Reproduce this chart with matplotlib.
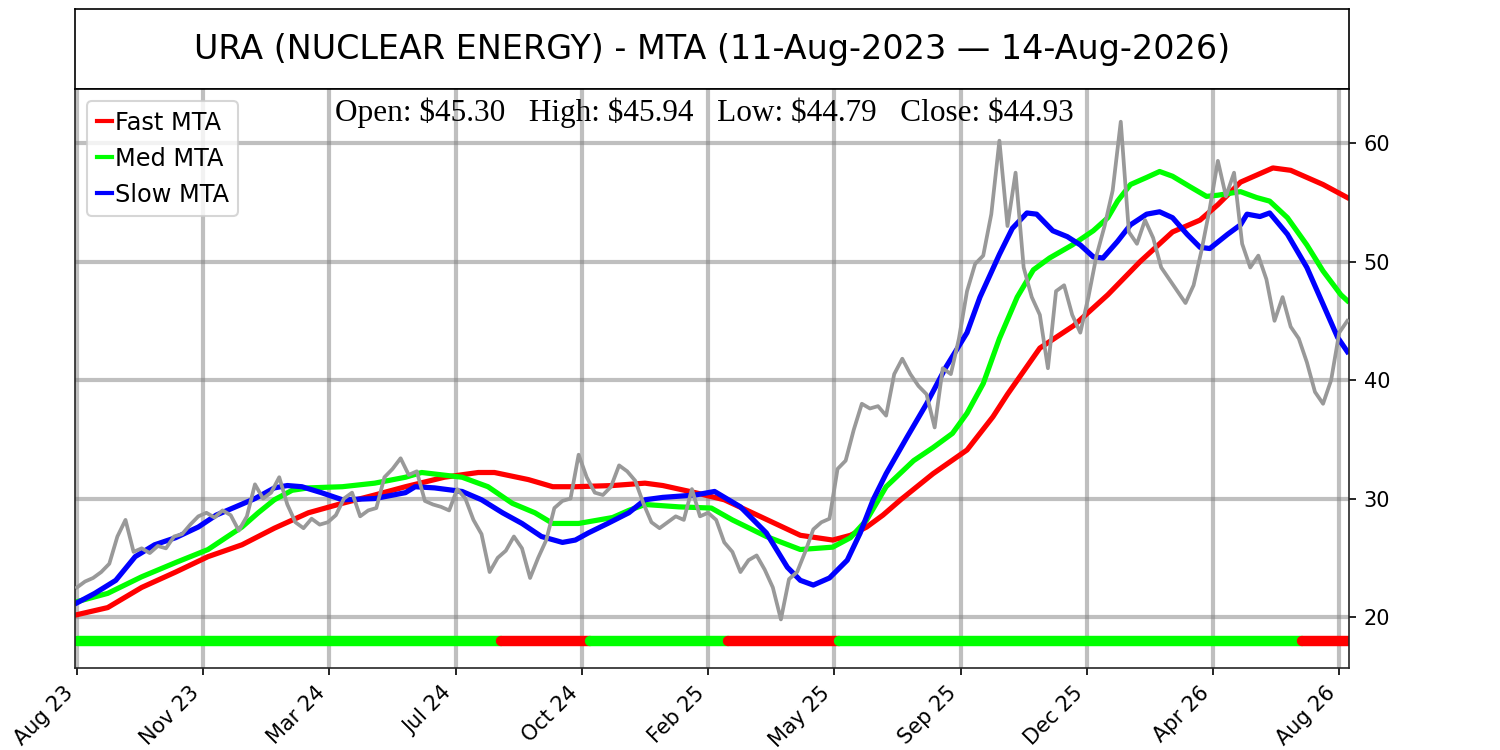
import numpy as np
import matplotlib.pyplot as plt

# chart text
ticker = "URA (NUCLEAR ENERGY)"
start_date = "11-Aug-2023"
end_date = "14-Aug-2026"
open_px = 45.30
high_px = 45.94
low_px = 44.79
close_px = 44.93

# weekly closes (one value per 5 trading days)
close = [
    22.5, 23.0, 23.3, 23.8, 24.5, 26.8, 28.2, 25.5, 25.8, 25.4,
    26.0, 25.8, 26.8, 27.0, 27.8, 28.5, 28.8, 28.4, 29.0, 28.6,
    27.3, 28.5, 31.2, 30.0, 30.5, 31.8, 29.5, 28.0, 27.5, 28.3,
    27.8, 28.0, 28.6, 30.0, 30.5, 28.5, 29.0, 29.2, 31.8, 32.5,
    33.4, 32.0, 32.3, 29.8, 29.5, 29.3, 29.0, 30.8, 30.0, 28.2,
    27.0, 23.8, 25.0, 25.6, 26.8, 25.8, 23.3, 25.0, 26.5, 29.2,
    29.8, 30.0, 33.7, 31.8, 30.5, 30.3, 31.0, 32.8, 32.3, 31.5,
    29.6, 28.0, 27.5, 28.0, 28.5, 28.2, 30.8, 28.5, 28.8, 28.2,
    26.3, 25.5, 23.8, 24.8, 25.2, 24.0, 22.5, 19.8, 23.2, 23.8,
    25.5, 27.4, 28.0, 28.3, 32.5, 33.2, 35.8, 38.0, 37.6, 37.8,
    37.0, 40.5, 41.8, 40.5, 39.5, 38.8, 36.0, 41.0, 40.5, 43.5,
    47.5, 49.8, 50.5, 54.0, 60.2, 53.0, 57.5, 49.5, 47.0, 45.5,
    41.0, 47.5, 48.0, 45.5, 44.0, 47.0, 50.5, 53.0, 56.0, 61.8,
    52.5, 51.5, 53.5, 52.0, 49.5, 48.5, 47.5, 46.5, 48.0, 51.0,
    54.5, 58.5, 55.5, 57.5, 51.5, 49.5, 50.5, 48.5, 45.0, 47.0,
    44.5, 43.5, 41.5, 39.0, 38.0, 40.0, 44.0, 45.0,
]

# moving trend averages: (trading-day index, value)
fast_idx = [0, 19, 40, 61, 81, 102, 122, 143, 164, 184, 203, 227, 248, 258,
            279, 294, 308, 331, 351, 362, 382, 400, 422, 447, 467, 478, 488,
            498, 509, 529, 550, 566, 575, 595, 616, 637, 657, 677, 694, 705,
            719, 739, 750, 770, 785]
fast_mta = [20.2, 20.8, 22.5, 23.8, 25.1, 26.1, 27.5, 28.8, 29.6, 30.3, 31.0,
            31.8, 32.2, 32.2, 31.6, 31.0, 31.0, 31.1, 31.3, 31.1, 30.5, 29.9,
            28.5, 26.9, 26.5, 26.9, 27.6, 28.6, 29.9, 32.1, 34.1, 36.9, 38.8,
            42.7, 44.6, 47.2, 50.0, 52.5, 53.5, 54.8, 56.7, 57.9, 57.7, 56.5,
            55.4]

med_idx = [0, 19, 40, 61, 81, 92, 102, 112, 122, 133, 143, 164, 184, 203,
           213, 238, 254, 269, 283, 294, 310, 331, 341, 351, 372, 392, 405,
           426, 447, 467, 478, 488, 500, 517, 529, 541, 550, 560, 570, 581,
           591, 601, 615, 628, 637, 643, 651, 661, 669, 677, 688, 698, 705,
           719, 729, 737, 748, 760, 770, 781, 785]
med_mta = [21.3, 22.0, 23.4, 24.6, 25.7, 26.7, 27.6, 28.8, 29.9, 30.7, 30.9,
           31.0, 31.3, 31.8, 32.2, 31.8, 31.0, 29.6, 28.8, 27.9, 27.9, 28.4,
           29.0, 29.5, 29.3, 29.2, 28.2, 26.8, 25.7, 25.9, 26.7, 28.2, 31.0,
           33.2, 34.3, 35.5, 37.2, 39.7, 43.5, 47.0, 49.3, 50.3, 51.4, 52.6,
           53.7, 55.1, 56.5, 57.1, 57.6, 57.2, 56.3, 55.5, 55.6, 55.9, 55.4,
           55.1, 53.7, 51.4, 49.2, 47.2, 46.7]

slow_idx = [0, 11, 24, 36, 48, 61, 75, 86, 98, 110, 122, 130, 139, 151, 164,
            184, 203, 209, 221, 238, 250, 263, 275, 287, 300, 308, 316, 328,
            341, 351, 362, 382, 394, 410, 426, 439, 447, 455, 465, 476, 484,
            492, 500, 513, 525, 537, 550, 558, 570, 578, 587, 593, 603, 612,
            620, 628, 634, 643, 651, 661, 669, 677, 686, 694, 700, 711, 719,
            723, 731, 737, 748, 760, 770, 779, 785]
slow_mta = [21.2, 22.0, 23.1, 25.1, 26.1, 26.7, 27.6, 28.6, 29.3, 30.0, 30.9,
            31.1, 31.0, 30.5, 29.9, 30.0, 30.5, 31.0, 30.9, 30.6, 29.9, 28.8,
            27.9, 26.8, 26.3, 26.5, 27.1, 27.9, 28.8, 29.9, 30.1, 30.3, 30.6,
            29.3, 27.1, 24.2, 23.1, 22.7, 23.3, 24.8, 27.1, 29.9, 32.1, 35.2,
            38.0, 41.1, 44.0, 47.0, 50.6, 52.8, 54.1, 54.0, 52.6, 52.1, 51.4,
            50.4, 50.3, 51.7, 53.1, 54.0, 54.2, 53.7, 52.3, 51.2, 51.1, 52.3,
            53.1, 54.0, 53.8, 54.1, 52.3, 49.5, 46.4, 43.6, 42.4]

# signal band: bar index where the state changes, 1 = green, 0 = red
sig_change = [0, 262, 317, 402, 471, 757]
sig_state = [1, 0, 1, 0, 1, 0]
last_bar = 785

tick_labels = ["Aug 23", "Nov 23", "Mar 24", "Jul 24", "Oct 24", "Feb 25",
               "May 25", "Sep 25", "Dec 25", "Apr 26", "Aug 26"]

fig = plt.figure(figsize=(10, 5), dpi=150)

# title box
ax_t = fig.add_axes([0.05, 0.8813, 0.8493, 0.1067])
ax_t.set_xticks([])
ax_t.set_yticks([])
ax_t.text(0.5, 0.5, f"{ticker} - MTA ({start_date} \u2014 {end_date})",
          ha='center', va='center', fontsize=16, transform=ax_t.transAxes)

ax = fig.add_axes([0.05, 0.1093, 0.8493, 0.772])

x_close = np.arange(len(close)) * 5
ax.plot(fast_idx, fast_mta, color='#ff0000', lw=2.5, label='Fast MTA', zorder=2)
ax.plot(med_idx, med_mta, color='#00ff00', lw=2.5, label='Med MTA', zorder=2)
ax.plot(slow_idx, slow_mta, color='#0000ff', lw=2.5, label='Slow MTA', zorder=2)
ax.plot(x_close, close, color='#999999', lw=1.8, zorder=3)

# green / red signal band along the bottom
ends = sig_change[1:] + [last_bar + 10]
for s, e, st in zip(sig_change, ends, sig_state):
    ax.plot([s, e], [18, 18], color='#00ff00' if st else '#ff0000',
            lw=5, solid_capstyle='round', zorder=2)

ax.set_xlim(-1.2, 786)
ax.set_ylim(15.7, 64.56)
ax.set_xticks(range(0, 781, 78))
ax.set_xticklabels(tick_labels, rotation=45, ha='right', fontsize=10)
ax.set_yticks([20, 30, 40, 50, 60])
ax.yaxis.tick_right()
ax.tick_params(labelsize=10)
ax.grid(True, color='gray', alpha=0.5, lw=2)
for sp in ['bottom', 'right', 'left']:
    ax.spines[sp].set_color('0.15')

sep = "   "
ohlc_text = (f"Open: \\${open_px:.2f}{sep}High: \\${high_px:.2f}{sep}"
             f"Low: \\${low_px:.2f}{sep}Close: \\${close_px:.2f}")
ax.text(0.494, 0.985, ohlc_text, ha='center', va='top', fontsize=15,
        family='Liberation Serif', transform=ax.transAxes)

leg = ax.legend(loc='upper left', fontsize=11.5, handlelength=0.65,
                handletextpad=0.1, labelspacing=0.5)
for ln in leg.get_lines():
    ln.set_linewidth(2)

fig.savefig('out.png', dpi=150)
